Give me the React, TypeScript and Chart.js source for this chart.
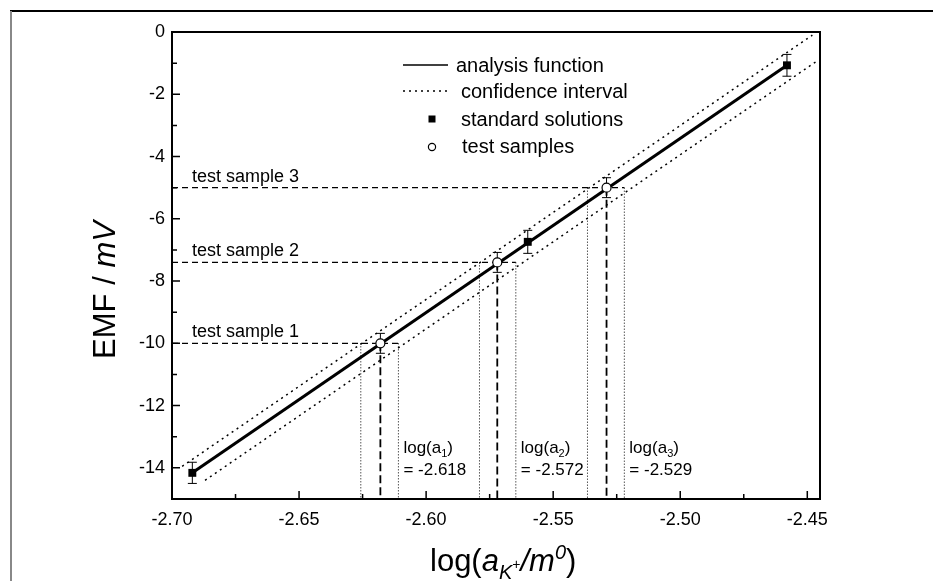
import React, { useEffect, useRef } from "react";
import { Chart, registerables } from "chart.js";
Chart.register(...registerables);

const FONT = "'Liberation Sans', Arial, sans-serif";

// axes
const X_MIN = -2.7;
const X_MAX = -2.445;
const Y_MIN = -15;
const Y_MAX = 0;
const xTickValues = [-2.7, -2.65, -2.6, -2.55, -2.5, -2.45];
const xMinorValues = [-2.675, -2.625, -2.575, -2.525, -2.475];
const yTickValues = [0, -2, -4, -6, -8, -10, -12, -14];
const yMinorValues = [-1, -3, -5, -7, -9, -11, -13];

// standard solutions
const stdX = [-2.692, -2.56, -2.458];
const stdY = [-14.16, -6.74, -1.07];
const stdErr = [0.34, 0.37, 0.35];

// test samples
const testNames = ["test sample 1", "test sample 2", "test sample 3"];
const testX = [-2.618, -2.572, -2.529];
const testY = [-10.0, -7.4, -5.0];
const testErr = [0.32, 0.32, 0.32];
const testLow = [-2.6257, -2.579, -2.5365];
const testHigh = [-2.6109, -2.5647, -2.522];
const testValueLabels = ["-2.618", "-2.572", "-2.529"];

// analysis function
const fitX = [-2.692, -2.458];
const fitY = [-14.16, -1.07];
// confidence interval
const upperX = [-2.696, -2.448];
const upperY = [-13.95, -0.1];
const lowerX = [-2.687, -2.4465];
const lowerY = [-14.4, -0.95];

type Part = { t: string; size: number; italic?: boolean; dy?: number };

function drawRich(ctx: CanvasRenderingContext2D, parts: Part[], x: number, y: number) {
  let cx = x;
  for (const p of parts) {
    ctx.font = `${p.italic ? "italic " : ""}${p.size}px ${FONT}`;
    ctx.fillText(p.t, cx, y + (p.dy || 0));
    cx += ctx.measureText(p.t).width;
  }
  return cx;
}

const pts = (xs: number[], ys: number[]) => xs.map((x, i) => ({ x, y: ys[i] }));

export default function App() {
  const ref = useRef<HTMLCanvasElement | null>(null);
  useEffect(() => {
    if (!ref.current) return;

    const lineDs = (data: any[], width: number, dash: number[] = []) => ({
      data,
      showLine: true,
      borderColor: "#000",
      borderWidth: width,
      borderDash: dash,
      pointRadius: 0,
      fill: false,
      tension: 0,
    });

    const datasets: any[] = [
      {
        data: pts(testX, testY),
        showLine: false,
        pointStyle: "circle",
        pointRadius: 4.5,
        pointBackgroundColor: "#fff",
        pointBorderColor: "#000",
        pointBorderWidth: 1.2,
      },
      {
        data: pts(stdX, stdY),
        showLine: false,
        pointStyle: "rect",
        pointRadius: 5.6,
        pointBackgroundColor: "#000",
        pointBorderColor: "#000",
        pointBorderWidth: 0,
      },
      lineDs(pts(fitX, fitY), 3),
      lineDs(pts(upperX, upperY), 1.5, [2, 4]),
      lineDs(pts(lowerX, lowerY), 1.5, [2, 4]),
    ];
    testX.forEach((tx, i) => {
      datasets.push(lineDs([{ x: X_MIN, y: testY[i] }, { x: testHigh[i], y: testY[i] }], 1.3, [6, 4]));
      datasets.push(lineDs([{ x: tx, y: testY[i] }, { x: tx, y: Y_MIN }], 1.8, [8, 4]));
      datasets.push(lineDs([{ x: testLow[i], y: testY[i] }, { x: testLow[i], y: Y_MIN }], 1, [1, 2]));
      datasets.push(lineDs([{ x: testHigh[i], y: testY[i] }, { x: testHigh[i], y: Y_MIN }], 1, [1, 2]));
    });

    const decor = {
      id: "decor",
      beforeDraw(chart: any) {
        const c = chart.ctx;
        c.save();
        c.fillStyle = "#fff";
        c.fillRect(0, 0, chart.width, chart.height);
        c.lineWidth = 2;
        c.strokeStyle = "#000";
        c.beginPath();
        c.moveTo(10, 11);
        c.lineTo(chart.width, 11);
        c.stroke();
        c.strokeStyle = "#888";
        c.beginPath();
        c.moveTo(11, 11);
        c.lineTo(11, chart.height);
        c.stroke();
        c.restore();
      },
      beforeDatasetsDraw(chart: any) {
        const c = chart.ctx;
        const xs = chart.scales.x;
        const ys = chart.scales.y;
        c.save();
        c.strokeStyle = "#000";
        c.lineWidth = 1;
        const bar = (x: number, y: number, e: number) => {
          const px = xs.getPixelForValue(x);
          const p1 = ys.getPixelForValue(y + e);
          const p2 = ys.getPixelForValue(y - e);
          c.beginPath();
          c.moveTo(px, p1);
          c.lineTo(px, p2);
          c.moveTo(px - 4.5, p1);
          c.lineTo(px + 4.5, p1);
          c.moveTo(px - 4.5, p2);
          c.lineTo(px + 4.5, p2);
          c.stroke();
        };
        stdX.forEach((x, i) => bar(x, stdY[i], stdErr[i]));
        testX.forEach((x, i) => bar(x, testY[i], testErr[i]));
        c.restore();
      },
      afterDatasetsDraw(chart: any) {
        const c = chart.ctx;
        const a = chart.chartArea;
        const xs = chart.scales.x;
        const ys = chart.scales.y;
        c.save();
        c.fillStyle = "#000";
        c.strokeStyle = "#000";
        // axis box
        c.lineWidth = 2;
        c.strokeRect(a.left, a.top, a.right - a.left, a.bottom - a.top);
        // ticks
        c.beginPath();
        xTickValues.forEach((v) => {
          const p = xs.getPixelForValue(v);
          c.moveTo(p, a.bottom);
          c.lineTo(p, a.bottom - 8);
        });
        xMinorValues.forEach((v) => {
          const p = xs.getPixelForValue(v);
          c.moveTo(p, a.bottom);
          c.lineTo(p, a.bottom - 5);
        });
        yTickValues.forEach((v) => {
          const p = ys.getPixelForValue(v);
          c.moveTo(a.left, p);
          c.lineTo(a.left + 8, p);
        });
        yMinorValues.forEach((v) => {
          const p = ys.getPixelForValue(v);
          c.moveTo(a.left, p);
          c.lineTo(a.left + 5, p);
        });
        c.lineWidth = 1.5;
        c.stroke();

        // test sample labels
        c.textBaseline = "alphabetic";
        c.textAlign = "left";
        c.font = `18px ${FONT}`;
        testNames.forEach((n, i) => {
          c.fillText(n, a.left + 20, ys.getPixelForValue(testY[i]) - 6);
        });
        // log(a_i) labels
        testHigh.forEach((h, i) => {
          const px = xs.getPixelForValue(h) + 5;
          drawRich(
            c,
            [
              { t: "log(a", size: 17 },
              { t: String(i + 1), size: 11, dy: 4 },
              { t: ")", size: 17 },
            ],
            px,
            a.bottom - 46
          );
          drawRich(c, [{ t: "= " + testValueLabels[i], size: 17 }], px, a.bottom - 24);
        });

        // legend
        c.lineWidth = 1.5;
        c.setLineDash([]);
        c.beginPath();
        c.moveTo(403, 65);
        c.lineTo(448, 65);
        c.stroke();
        c.setLineDash([2, 4]);
        c.beginPath();
        c.moveTo(403, 91);
        c.lineTo(448, 91);
        c.stroke();
        c.setLineDash([]);
        c.fillRect(428.5, 115.5, 7, 7);
        c.fillStyle = "#fff";
        c.lineWidth = 1.2;
        c.beginPath();
        c.arc(432, 147, 3.6, 0, Math.PI * 2);
        c.fill();
        c.stroke();
        c.fillStyle = "#000";
        c.textBaseline = "middle";
        c.font = `20px ${FONT}`;
        c.fillText("analysis function", 456, 66);
        c.fillText("confidence interval", 461, 92);
        c.fillText("standard solutions", 461, 120);
        c.fillText("test samples", 462, 147);

        // axis titles
        c.textBaseline = "alphabetic";
        drawRich(
          c,
          [
            { t: "log(", size: 31 },
            { t: "a", size: 31, italic: true },
            { t: "K", size: 20, italic: true, dy: 8 },
            { t: "+", size: 14, dy: -2 },
            { t: "/m", size: 31, italic: true },
            { t: "0", size: 20, italic: true, dy: -12 },
            { t: ")", size: 31 },
          ],
          430,
          571
        );
        c.save();
        c.translate(115, 290);
        c.rotate(-Math.PI / 2);
        c.font = `31px ${FONT}`;
        const w1 = c.measureText("EMF / ").width;
        c.font = `italic 31px ${FONT}`;
        const w2 = c.measureText("mV").width;
        const sx = -(w1 + w2) / 2;
        c.font = `31px ${FONT}`;
        c.fillText("EMF / ", sx, 0);
        c.font = `italic 31px ${FONT}`;
        c.fillText("mV", sx + w1, 0);
        c.restore();
        c.restore();
      },
    };

    const chart = new Chart(ref.current, {
      type: "scatter",
      data: { datasets },
      options: {
        animation: false,
        responsive: true,
        maintainAspectRatio: false,
        layout: { padding: { left: 0, right: 113, top: 32, bottom: 0 } },
        plugins: { legend: { display: false }, tooltip: { enabled: false } },
        scales: {
          x: {
            type: "linear",
            min: X_MIN,
            max: X_MAX,
            grid: { display: false, drawTicks: false },
            border: { display: false },
            afterFit: (s: any) => {
              s.height = 82;
            },
            afterBuildTicks: (s: any) => {
              s.ticks = xTickValues.map((v) => ({ value: v }));
            },
            ticks: {
              autoSkip: false,
              maxRotation: 0,
              padding: 10,
              color: "#000",
              font: { family: FONT, size: 18 },
              callback: (v: any) => Number(v).toFixed(2),
            },
          },
          y: {
            type: "linear",
            min: Y_MIN,
            max: Y_MAX,
            grid: { display: false, drawTicks: false },
            border: { display: false },
            afterFit: (s: any) => {
              s.width = 172;
            },
            afterBuildTicks: (s: any) => {
              s.ticks = yTickValues.map((v) => ({ value: v }));
            },
            ticks: {
              autoSkip: false,
              padding: 7,
              color: "#000",
              font: { family: FONT, size: 18 },
              callback: (v: any) => String(v),
            },
          },
        },
      },
      plugins: [decor],
    });
    return () => chart.destroy();
  }, []);

  return (
    <div style={{ position: "fixed", left: 0, top: 0, width: 933, height: 581, background: "#fff" }}>
      <canvas ref={ref} />
    </div>
  );
}
